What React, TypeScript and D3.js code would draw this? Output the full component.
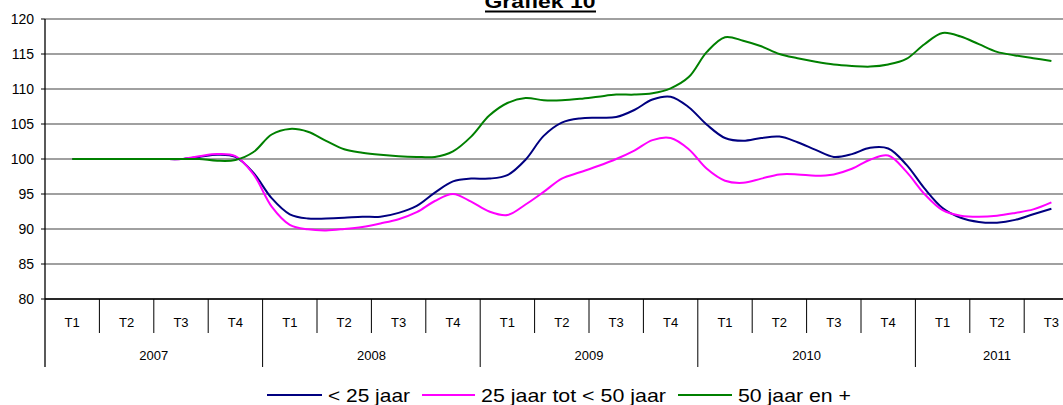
import * as d3 from 'd3';

// monthly index values, Feb 2007 .. Aug 2011 (month index 1..55, index 0 = Jan 2007)
const under25 = [
  100, 100, 100, 100, 100, 100, 100, 100.3, 100.6, 100.3, 98.0, 94.4,
  92.1, 91.5, 91.5, 91.6, 91.75, 91.75, 92.3, 93.3, 95.2, 96.8, 97.2, 97.2,
  97.7, 99.9, 103.3, 105.2, 105.8, 105.9, 106.0, 107.0, 108.5, 108.9, 107.4, 104.9,
  103.0, 102.6, 103.0, 103.2, 102.4, 101.3, 100.3, 100.7, 101.6, 101.5, 99.2, 95.8,
  93.0, 91.6, 91.0, 90.9, 91.3, 92.1, 92.9,
];
const from25to50 = [
  100, 100, 100, 100, 100, 100, 100, 100.4, 100.7, 100.4, 97.8, 93.2,
  90.6, 89.95, 89.8, 90.0, 90.3, 90.8, 91.4, 92.4, 94.0, 95.0, 93.9, 92.5,
  92.0, 93.5, 95.3, 97.2, 98.1, 99.0, 100.0, 101.2, 102.7, 103.0, 101.4, 98.6,
  96.9, 96.6, 97.2, 97.8, 97.8, 97.6, 97.8, 98.6, 99.9, 100.5, 98.2, 95.0,
  92.7, 91.9, 91.75, 91.9, 92.3, 92.8, 93.8,
];
const over50 = [
  100, 100, 100, 100, 100, 100, 100, 100, 99.75, 99.85, 101.0, 103.5,
  104.3, 103.9, 102.6, 101.4, 100.9, 100.6, 100.4, 100.3, 100.3, 101.1, 103.2, 106.2,
  108.0, 108.7, 108.4, 108.4, 108.6, 108.9, 109.2, 109.2, 109.4, 110.1, 111.7, 115.3,
  117.4, 116.9, 116.1, 115.0, 114.4, 113.9, 113.5, 113.3, 113.2, 113.5, 114.3, 116.4,
  118.0, 117.5, 116.4, 115.3, 114.8, 114.4, 114.0,
];
const firstMonth = 1;

const years = ['2007', '2008', '2009', '2010', '2011'];
const quartersPerYear = [4, 4, 4, 4, 3];
const quarterLabels = ['T1', 'T2', 'T3', 'T4'];
const yTicks = [80, 85, 90, 95, 100, 105, 110, 115, 120];

const series = [
  { name: '< 25 jaar', values: under25, color: '#000080' },
  { name: '25 jaar tot < 50 jaar', values: from25to50, color: '#FF00FF' },
  { name: '50 jaar en +', values: over50, color: '#008000' },
];

const W = 1063;
const H = 405;
const left = 45;
const top = 19;
const bottom = 299;
const quarterW = 54.4;
const nQuarters = d3.sum(quartersPerYear);
const font = 'Arial, "Liberation Sans", sans-serif';

export default function App() {
  const x = d3.scaleLinear().domain([0, nQuarters * 3]).range([left, left + nQuarters * quarterW]);
  const y = d3.scaleLinear().domain([80, 120]).range([bottom, top]);

  const line = d3
    .line<number>()
    .x((_, i) => x(firstMonth + i + 0.5))
    .y((d) => y(d))
    .curve(d3.curveCatmullRom.alpha(0.5));

  const quarters: { label: string; q: number }[] = [];
  quartersPerYear.forEach((n) => {
    for (let i = 0; i < n; i++) quarters.push({ label: quarterLabels[i], q: quarters.length });
  });
  const yearStarts = d3.cumsum([0, ...quartersPerYear]);

  const legendItems = [
    { x1: 267, x2: 322, tx: 328, w: 82 },
    { x1: 422, x2: 475, tx: 481, w: 185 },
    { x1: 678, x2: 732, tx: 738, w: 113 },
  ];

  return (
    <svg width={W} height={H} style={{ position: 'absolute', left: 0, top: 0 }} fontFamily={font}>
      <rect width={W} height={H} fill="#fff" />
      {/* title, sits partly above the top edge like the original */}
      <text x={540} y={8} textAnchor="middle" fontSize={19} fontWeight="bold" textLength={111} lengthAdjust="spacingAndGlyphs">
        Grafiek 10
      </text>
      <line x1={485} x2={596} y1={11.5} y2={11.5} stroke="#000" strokeWidth={2} />

      {/* gridlines */}
      {yTicks.map((t) => (
        <line key={t} x1={left} x2={W} y1={y(t)} y2={y(t)} stroke="#808080" strokeWidth={1.6} />
      ))}

      {/* y axis */}
      <line x1={left} x2={left} y1={top} y2={367} stroke="#000" strokeWidth={1.3} />
      {yTicks.map((t) => (
        <g key={t}>
          <line x1={41} x2={left} y1={y(t)} y2={y(t)} stroke="#000" />
          <text x={34} y={y(t)} dy="0.35em" textAnchor="end" fontSize={14}>
            {t}
          </text>
        </g>
      ))}

      {/* x axis */}
      <line x1={left} x2={W} y1={bottom} y2={bottom} stroke="#000" strokeWidth={1.3} />
      {d3.range(1, nQuarters).map((k) => (
        <line
          key={k}
          x1={left + k * quarterW}
          x2={left + k * quarterW}
          y1={bottom}
          y2={yearStarts.includes(k) ? 367 : 333}
          stroke="#000"
        />
      ))}
      {quarters.map((d) => (
        <text key={d.q} x={left + (d.q + 0.5) * quarterW} y={322} dy="0.35em" textAnchor="middle" fontSize={13}>
          {d.label}
        </text>
      ))}
      {years.map((yr, i) => (
        <text
          key={yr}
          x={left + ((yearStarts[i] + yearStarts[i + 1]) / 2) * quarterW}
          y={355}
          dy="0.35em"
          textAnchor="middle"
          fontSize={13}
        >
          {yr}
        </text>
      ))}

      {/* lines */}
      {series.map((s) => (
        <path key={s.name} d={line(s.values) ?? ''} fill="none" stroke={s.color} strokeWidth={2} />
      ))}

      {/* legend */}
      {series.map((s, i) => (
        <g key={s.name}>
          <line x1={legendItems[i].x1} x2={legendItems[i].x2} y1={395} y2={395} stroke={s.color} strokeWidth={2} />
          <text
            x={legendItems[i].tx}
            y={395}
            dy="0.35em"
            fontSize={19}
            textLength={legendItems[i].w}
            lengthAdjust="spacingAndGlyphs"
          >
            {s.name}
          </text>
        </g>
      ))}
    </svg>
  );
}
